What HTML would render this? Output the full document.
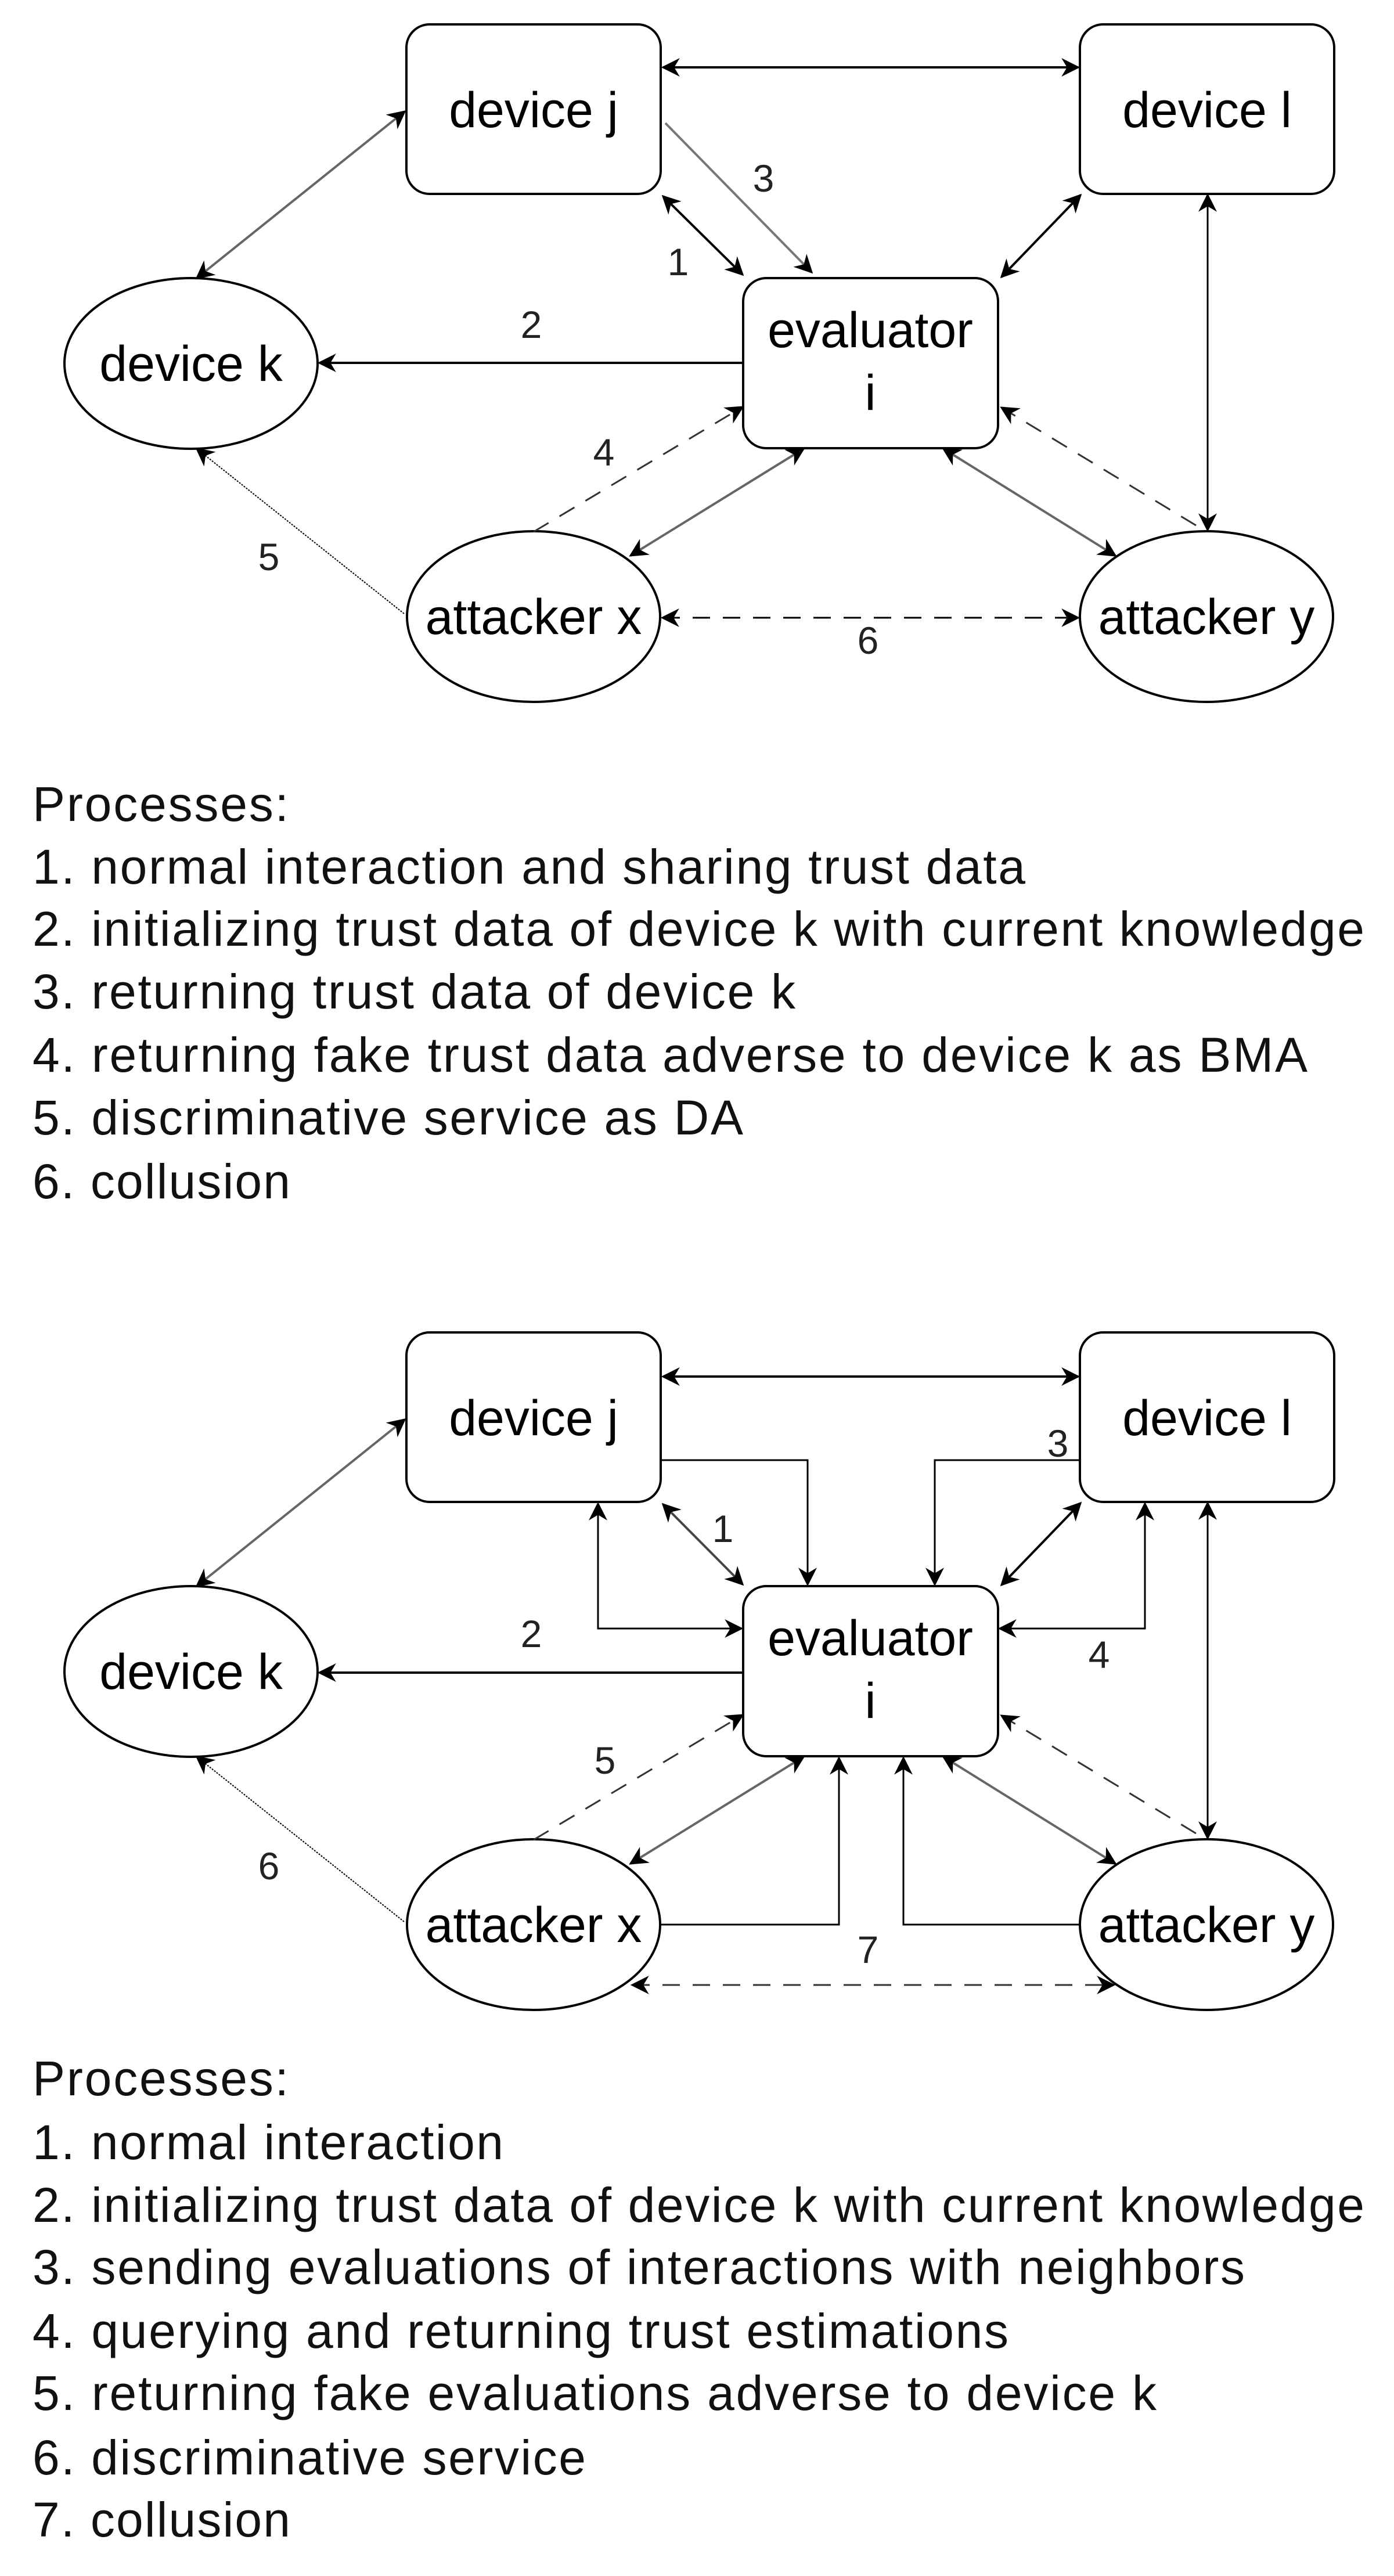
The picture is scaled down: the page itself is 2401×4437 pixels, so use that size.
<!DOCTYPE html>
<html><head><meta charset="utf-8"><style>html,body{margin:0;padding:0;background:#fff}svg{display:block}</style></head>
<body>
<svg width="2401" height="4437" viewBox="0 0 2401 4437" xmlns="http://www.w3.org/2000/svg" font-family="Liberation Sans, sans-serif">
<defs>
<marker id="b" viewBox="0 0 10 10" refX="9" refY="5" markerWidth="32" markerHeight="32" markerUnits="userSpaceOnUse" orient="auto-start-reverse"><path d="M0,0 L10,5 L0,10 L3,5 z" fill="#000"/></marker>
</defs>
<g fill="none" stroke="#000" stroke-width="4">
<rect x="700" y="42" width="438" height="292" rx="40"/>
<rect x="1860" y="42" width="438" height="292" rx="40"/>
<rect x="1280" y="479" width="439" height="293" rx="40"/>
<ellipse cx="329" cy="626" rx="218" ry="147"/>
<ellipse cx="919" cy="1062" rx="218" ry="147"/>
<ellipse cx="2078" cy="1062" rx="218" ry="147"/>
</g>
<g fill="none" stroke="#000" stroke-width="4">
<line x1="1142" y1="116" x2="1857" y2="116" marker-start="url(#b)" marker-end="url(#b)"/>
<line x1="697" y1="192" x2="339" y2="479" stroke="#666" marker-start="url(#b)" marker-end="url(#b)"/>
<line x1="1146" y1="212" x2="1398" y2="469" stroke="#777" marker-end="url(#b)"/>
<line x1="1142" y1="338" x2="1279" y2="473" marker-start="url(#b)" marker-end="url(#b)"/>
<line x1="1861" y1="336" x2="1725" y2="477" marker-start="url(#b)" marker-end="url(#b)"/>
<line x1="2080" y1="336" x2="2080" y2="913" stroke-width="3" marker-start="url(#b)" marker-end="url(#b)"/>
<line x1="1280" y1="625" x2="550" y2="625" marker-end="url(#b)"/>
<line x1="919" y1="916" x2="1279" y2="701" stroke="#333" stroke-width="3" stroke-dasharray="30,22" marker-end="url(#b)"/>
<line x1="1086" y1="957" x2="1384" y2="773" stroke="#666" marker-start="url(#b)" marker-end="url(#b)"/>
<line x1="1625" y1="773" x2="1921" y2="957" stroke="#666" marker-start="url(#b)" marker-end="url(#b)"/>
<line x1="2060" y1="905" x2="1725" y2="702" stroke="#333" stroke-width="3" stroke-dasharray="30,22" marker-end="url(#b)"/>
<line x1="696" y1="1057" x2="339" y2="773" stroke-width="2" stroke-dasharray="3,2" marker-end="url(#b)"/>
<line x1="1141" y1="1064" x2="1857" y2="1064" stroke-width="3" stroke-dasharray="30,22" marker-start="url(#b)" marker-end="url(#b)"/>
</g>
<g font-size="86" text-anchor="middle" fill="#000">
<text x="919" y="219">device j</text>
<text x="2079" y="219">device l</text>
<text x="1499" y="598">evaluator</text>
<text x="1499" y="706">i</text>
<text x="329" y="656">device k</text>
<text x="919" y="1092">attacker x</text>
<text x="2078" y="1092">attacker y</text>
</g>
<g font-size="66" text-anchor="middle" fill="#222">
<text x="1315" y="330">3</text>
<text x="1168" y="474">1</text>
<text x="915" y="582">2</text>
<text x="1040" y="802">4</text>
<text x="463" y="982">5</text>
<text x="1495" y="1126">6</text>
</g>
<g font-size="84" fill="#111" lengthAdjust="spacingAndGlyphs">
<text x="56" y="1414" textLength="441">Processes:</text>
<text x="56" y="1522" textLength="1710">1. normal interaction and sharing trust data</text>
<text x="56" y="1629" textLength="2294">2. initializing trust data of device k with current knowledge</text>
<text x="56" y="1737" textLength="1314">3. returning trust data of device k</text>
<text x="56" y="1846" textLength="2196">4. returning fake trust data adverse to device k as BMA</text>
<text x="56" y="1954" textLength="1224">5. discriminative service as DA</text>
<text x="56" y="2064" textLength="444">6. collusion</text>
</g>

<g transform="translate(0,2253)">
<g fill="none" stroke="#000" stroke-width="4">
<rect x="700" y="42" width="438" height="292" rx="40"/>
<rect x="1860" y="42" width="438" height="292" rx="40"/>
<rect x="1280" y="479" width="439" height="293" rx="40"/>
<ellipse cx="329" cy="626" rx="218" ry="147"/>
<ellipse cx="919" cy="1062" rx="218" ry="147"/>
<ellipse cx="2078" cy="1062" rx="218" ry="147"/>
</g>
<g fill="none" stroke="#000" stroke-width="4">
<line x1="1142" y1="118" x2="1857" y2="118" marker-start="url(#b)" marker-end="url(#b)"/>
<line x1="697" y1="192" x2="339" y2="479" stroke="#666" marker-start="url(#b)" marker-end="url(#b)"/>
<polyline points="1138,262 1391,262 1391,476" stroke-width="3" marker-end="url(#b)"/>
<polyline points="1860,262 1610,262 1610,476" stroke-width="3" marker-end="url(#b)"/>
<line x1="1142" y1="338" x2="1279" y2="476" stroke="#444" marker-start="url(#b)" marker-end="url(#b)"/>
<polyline points="1030,337 1030,552 1277,552" stroke-width="3" marker-start="url(#b)" marker-end="url(#b)"/>
<polyline points="1972,337 1972,552 1722,552" stroke-width="3" marker-start="url(#b)" marker-end="url(#b)"/>
<line x1="1861" y1="336" x2="1725" y2="477" marker-start="url(#b)" marker-end="url(#b)"/>
<line x1="2080" y1="336" x2="2080" y2="913" stroke-width="3" marker-start="url(#b)" marker-end="url(#b)"/>
<line x1="1280" y1="628" x2="550" y2="628" marker-end="url(#b)"/>
<line x1="919" y1="916" x2="1279" y2="701" stroke="#333" stroke-width="3" stroke-dasharray="30,22" marker-end="url(#b)"/>
<line x1="1086" y1="957" x2="1384" y2="773" stroke="#666" marker-start="url(#b)" marker-end="url(#b)"/>
<line x1="1625" y1="773" x2="1921" y2="957" stroke="#666" marker-start="url(#b)" marker-end="url(#b)"/>
<line x1="2060" y1="905" x2="1725" y2="702" stroke="#333" stroke-width="3" stroke-dasharray="30,22" marker-end="url(#b)"/>
<polyline points="1138,1062 1445,1062 1445,775" stroke-width="3" marker-end="url(#b)"/>
<polyline points="1860,1062 1556,1062 1556,775" stroke-width="3" marker-end="url(#b)"/>
<line x1="696" y1="1057" x2="339" y2="773" stroke-width="2" stroke-dasharray="3,2" marker-end="url(#b)"/>
<line x1="1089" y1="1166" x2="1918" y2="1166" stroke="#333" stroke-width="3" stroke-dasharray="30,22" marker-start="url(#b)" marker-end="url(#b)"/>
</g>
<g font-size="86" text-anchor="middle" fill="#000">
<text x="919" y="219">device j</text>
<text x="2079" y="219">device l</text>
<text x="1499" y="598">evaluator</text>
<text x="1499" y="706">i</text>
<text x="329" y="656">device k</text>
<text x="919" y="1092">attacker x</text>
<text x="2078" y="1092">attacker y</text>
</g>
<g font-size="66" text-anchor="middle" fill="#222">
<text x="1822" y="256">3</text>
<text x="1245" y="403">1</text>
<text x="915" y="584">2</text>
<text x="1893" y="620">4</text>
<text x="1042" y="802">5</text>
<text x="463" y="984">6</text>
<text x="1495" y="1128">7</text>
</g>
</g>

<g font-size="84" fill="#111" lengthAdjust="spacingAndGlyphs">
<text x="56" y="3609" textLength="441">Processes:</text>
<text x="56" y="3719" textLength="811">1. normal interaction</text>
<text x="56" y="3827" textLength="2294">2. initializing trust data of device k with current knowledge</text>
<text x="56" y="3934" textLength="2088">3. sending evaluations of interactions with neighbors</text>
<text x="56" y="4044" textLength="1681">4. querying and returning trust estimations</text>
<text x="56" y="4151" textLength="1936">5. returning fake evaluations adverse to device k</text>
<text x="56" y="4262" textLength="953">6. discriminative service</text>
<text x="56" y="4369" textLength="444">7. collusion</text>
</g>
</svg>
</body></html>
